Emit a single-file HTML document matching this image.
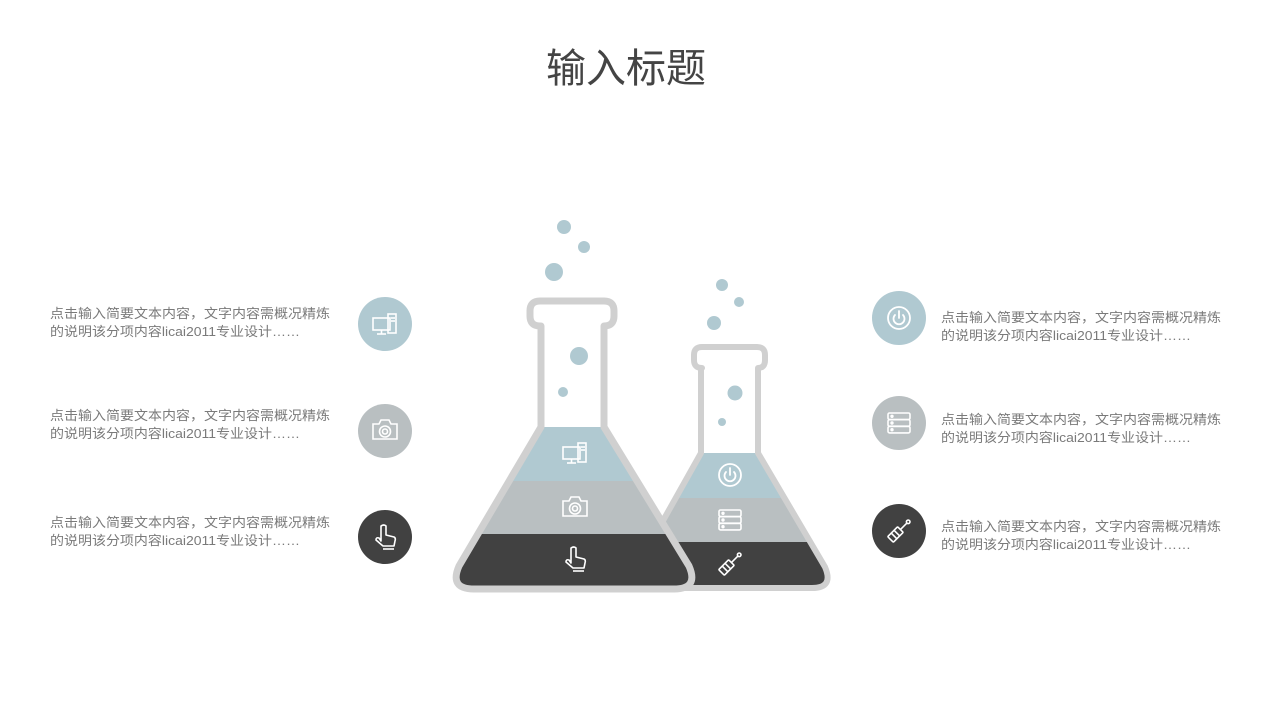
<!DOCTYPE html>
<html><head><meta charset="utf-8"><style>
html,body{margin:0;padding:0;background:#fff;}
svg{display:block;}
text{font-family:"Liberation Sans","Noto Sans CJK SC",sans-serif;}
.d{font-size:13px;fill:#7a7a7a;}
</style></head><body>
<svg width="1280" height="720" viewBox="0 0 1280 720" xmlns="http://www.w3.org/2000/svg">
<defs>
  <g id="ipc" fill="none" stroke="#fff" stroke-width="1.6">
    <rect x="-12" y="-7" width="17" height="12"/>
    <line x1="-3.5" y1="5" x2="-3.5" y2="9"/><line x1="-8" y1="9" x2="1" y2="9"/>
    <rect x="3" y="-11" width="8" height="19"/>
    <line x1="6" y1="-7" x2="10" y2="-7"/><line x1="6" y1="-4" x2="10" y2="-4"/>
  </g>
  <g id="icam" fill="none" stroke="#fff" stroke-width="1.6">
    <path d="M-12 -6 L-6 -6 L-4 -10 L4 -10 L6 -6 L12 -6 L12 9 L-12 9 Z"/>
    <circle cx="0" cy="1.5" r="5.5"/><circle cx="0" cy="1.5" r="2.5"/>
  </g>
  <g id="ihand" fill="none" stroke="#fff" stroke-width="1.6" stroke-linejoin="round">
    <path d="M-4 4 L-4 -11 Q-1 -13 1 -11 L1 -2 L9 0 Q11 1 10 4 L9 9 L-2 9 L-9 3 Q-9 0 -6 1 Z"/>
    <line x1="-2" y1="12" x2="9" y2="12"/>
  </g>
  <g id="ipow" fill="none" stroke="#fff" stroke-width="1.8" stroke-linecap="round">
    <circle cx="0" cy="0" r="11"/>
    <path d="M-4 -3 A5.5 5.5 0 1 0 4 -3"/><line x1="0" y1="-7" x2="0" y2="0"/>
  </g>
  <g id="isrv" fill="none" stroke="#fff" stroke-width="1.6">
    <rect x="-11" y="-10" width="22" height="6.5" rx="1.5"/>
    <rect x="-11" y="-3.3" width="22" height="6.5" rx="1.5"/>
    <rect x="-11" y="3.4" width="22" height="6.5" rx="1.5"/>
    <circle cx="-7" cy="-6.7" r="0.9"/><circle cx="-7" cy="0" r="0.9"/><circle cx="-7" cy="6.7" r="0.9"/>
  </g>
  <g id="iscr" fill="none" stroke="#fff" stroke-width="1.6" stroke-linejoin="round">
    <g transform="rotate(45)">
      <rect x="-4" y="-2" width="8" height="14" rx="1"/>
      <line x1="-4" y1="3" x2="4" y2="3"/><line x1="-4" y1="7" x2="4" y2="7"/>
      <line x1="0" y1="-2" x2="0" y2="-11"/><circle cx="0" cy="-13" r="1.8"/>
    </g>
  </g>
  <path id="pb" d="M541 326 L540 326 Q530 326 530 316 L530 311 Q530 301 540 301 L604 301 Q614 301 614 311 L614 316 Q614 326 604 326 L604 427 L689 566 Q699 589 674 589 L474 589 Q449 589 459 566 L541 427 Z"/>
  <path id="ps" d="M701 368 L702 368 Q694 368 694 360 L694 355 Q694 347 702 347 L757 347 Q765 347 765 355 L765 360 Q765 368 758 368 L758 453 L825 567 Q834 588 812 588 L650 588 Q628 588 637 567 L701 453 Z"/>
  <clipPath id="cb"><use href="#pb"/></clipPath>
  <clipPath id="cs"><use href="#ps"/></clipPath>
</defs>

<text x="626" y="82" text-anchor="middle" font-size="40" fill="#444">输入标题</text>

<use href="#ps" fill="#fff"/>
<g clip-path="url(#cs)">
  <rect x="600" y="453" width="260" height="45" fill="#b0c9d1"/>
  <rect x="600" y="498" width="260" height="44" fill="#b9bfc1"/>
  <rect x="600" y="542" width="260" height="60" fill="#414141"/>
</g>
<use href="#ps" fill="none" stroke="#d0d0d0" stroke-width="6" stroke-linejoin="round"/>

<use href="#pb" fill="#fff"/>
<g clip-path="url(#cb)">
  <rect x="440" y="427" width="270" height="54" fill="#b0c9d1"/>
  <rect x="440" y="481" width="270" height="53" fill="#b9bfc1"/>
  <rect x="440" y="534" width="270" height="60" fill="#414141"/>
</g>
<use href="#pb" fill="none" stroke="#d0d0d0" stroke-width="7" stroke-linejoin="round"/>

<g fill="#b0c9d1">
  <circle cx="564" cy="227" r="7"/><circle cx="584" cy="247" r="6"/><circle cx="554" cy="272" r="9"/>
  <circle cx="579" cy="356" r="9"/><circle cx="563" cy="392" r="5"/>
  <circle cx="722" cy="285" r="6"/><circle cx="739" cy="302" r="5"/><circle cx="714" cy="323" r="7"/>
  <circle cx="735" cy="393" r="7.5"/><circle cx="722" cy="422" r="4"/>
</g>

<use href="#ipc" x="575" y="454"/>
<use href="#icam" x="575" y="507"/>
<use href="#ihand" x="575" y="559"/>
<use href="#ipow" x="730" y="475"/>
<use href="#isrv" x="730" y="520"/>
<use href="#iscr" x="730" y="564"/>

<circle cx="385" cy="324" r="27" fill="#b0c9d1"/><use href="#ipc" x="385" y="325"/>
<circle cx="385" cy="431" r="27" fill="#b9bfc1"/><use href="#icam" x="385" y="430"/>
<circle cx="385" cy="537" r="27" fill="#414141"/><use href="#ihand" x="385" y="537"/>
<circle cx="899" cy="318" r="27" fill="#b0c9d1"/><use href="#ipow" x="899" y="318"/>
<circle cx="899" cy="423" r="27" fill="#b9bfc1"/><use href="#isrv" x="899" y="423"/>
<circle cx="899" cy="531" r="27" fill="#414141"/><use href="#iscr" x="899" y="531"/>

<g class="d">
<text class="d" x="50" y="318" textLength="280" lengthAdjust="spacingAndGlyphs">点击输入简要文本内容，文字内容需概况精炼</text>
<text class="d" x="50" y="336" textLength="250" lengthAdjust="spacingAndGlyphs">的说明该分项内容licai2011专业设计……</text>
<text class="d" x="50" y="420" textLength="280" lengthAdjust="spacingAndGlyphs">点击输入简要文本内容，文字内容需概况精炼</text>
<text class="d" x="50" y="438" textLength="250" lengthAdjust="spacingAndGlyphs">的说明该分项内容licai2011专业设计……</text>
<text class="d" x="50" y="527" textLength="280" lengthAdjust="spacingAndGlyphs">点击输入简要文本内容，文字内容需概况精炼</text>
<text class="d" x="50" y="545" textLength="250" lengthAdjust="spacingAndGlyphs">的说明该分项内容licai2011专业设计……</text>
<text class="d" x="941" y="322" textLength="280" lengthAdjust="spacingAndGlyphs">点击输入简要文本内容，文字内容需概况精炼</text>
<text class="d" x="941" y="340" textLength="250" lengthAdjust="spacingAndGlyphs">的说明该分项内容licai2011专业设计……</text>
<text class="d" x="941" y="424" textLength="280" lengthAdjust="spacingAndGlyphs">点击输入简要文本内容，文字内容需概况精炼</text>
<text class="d" x="941" y="442" textLength="250" lengthAdjust="spacingAndGlyphs">的说明该分项内容licai2011专业设计……</text>
<text class="d" x="941" y="531" textLength="280" lengthAdjust="spacingAndGlyphs">点击输入简要文本内容，文字内容需概况精炼</text>
<text class="d" x="941" y="549" textLength="250" lengthAdjust="spacingAndGlyphs">的说明该分项内容licai2011专业设计……</text>
</g>
</svg>
</body></html>
